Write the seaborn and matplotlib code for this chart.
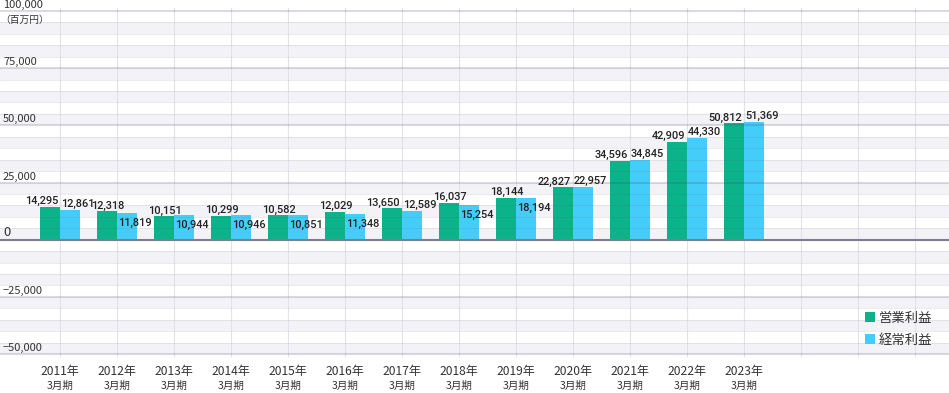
# 営業利益・経常利益の推移 (百万円)
import pandas as pd
import matplotlib
matplotlib.use("Agg")
import matplotlib.pyplot as plt
import matplotlib.transforms as mtransforms
import seaborn as sns

years = ["2011", "2012", "2013", "2014", "2015", "2016", "2017",
         "2018", "2019", "2020", "2021", "2022", "2023"]
eigyo = [14295, 12318, 10151, 10299, 10582, 12029, 13650,
         16037, 18144, 22827, 34596, 42909, 50812]
keijo = [12861, 11819, 10944, 10946, 10851, 11348, 12589,
         15254, 18194, 22957, 34845, 44330, 51369]
series = ["営業利益", "経常利益"]
colors = ["#0bb38b", "#45cdf9"]
y_major = [-50000, -25000, 0, 25000, 50000, 75000, 100000]

df = pd.DataFrame({
    "year": years * 2,
    "kind": [series[0]] * len(years) + [series[1]] * len(years),
    "value": eigyo + keijo,
})

sns.set_style("white")
plt.rcParams["font.family"] = ["Noto Sans CJK JP", "DejaVu Sans"]

fig = plt.figure(figsize=(9.49, 3.93), dpi=100)
# axes: pixel 8 .. 357 from top
ax = fig.add_axes([0, 36 / 393, 1, 349 / 393])

sns.barplot(data=df, x="year", y="value", hue="kind", palette=colors,
            width=0.7, saturation=1, linewidth=0, ax=ax, zorder=2,
            legend=True)

upp = 150000 / 343
ax.set_ylim(-50000 - 3 * upp, 100000 + 3 * upp)
ax.set_xlim(-60 / 57, -60 / 57 + 949 / 57)
for s in ax.spines.values():
    s.set_visible(False)
ax.set_xticks([])
ax.set_yticks([])
ax.set_xlabel("")
ax.set_ylabel("")

# 背景の縞と罫線
for k in range(-10, 20):
    if k % 2 == 0:
        ax.axhspan(k * 5000, (k + 1) * 5000, color="#f3f3f7", lw=0, zorder=0)
for v in range(-50000, 100001, 5000):
    if v == 0:
        ax.axhline(v, color="#807a90", lw=1.5, zorder=4)
    elif v % 25000 == 0:
        ax.axhline(v, color=(0.3, 0.28, 0.42, 0.2), lw=1.5, zorder=3)
    else:
        ax.axhline(v, color=(0.3, 0.28, 0.42, 0.1), lw=0.8, zorder=3)
for i in range(16):
    ax.axvline(i, color="#e3e2e9", lw=0.8, zorder=1)

# y軸ラベル
for v in y_major:
    lab = "0" if v == 0 else f"{v:,}".replace("-", "−")
    fs = 9.5 if v == 0 else 8
    ax.annotate(lab, (3 / 949, v), xycoords=("axes fraction", "data"),
                xytext=(0, 1), textcoords="offset pixels",
                ha="left", va="bottom", fontsize=fs, color="#333333")
ax.annotate("（百万円）", (0, 100000), xycoords=("axes fraction", "data"),
            xytext=(0, -4), textcoords="offset pixels",
            ha="left", va="top", fontsize=7, color="#333333")

# x軸ラベル
trans = mtransforms.blended_transform_factory(ax.transData, ax.transAxes)
for i, y in enumerate(years):
    ax.annotate(f"{y}年", (i, 0), xycoords=trans, xytext=(0, -15),
                textcoords="offset pixels", ha="center", va="center",
                fontsize=8.7, color="#333333", annotation_clip=False)
    ax.annotate("3月期", (i, 0), xycoords=trans, xytext=(0, -29),
                textcoords="offset pixels", ha="center", va="center",
                fontsize=7.6, color="#333333", annotation_clip=False)

# 数値ラベル
vfont = dict(family="Roboto", fontsize=7.9, color="#222222", weight="medium")
for i, (g, b) in enumerate(zip(eigyo, keijo)):
    spread = (g - b > 1000) or max(g, b) > 20000
    if spread:
        ax.annotate(f"{g:,}", (i, g), xytext=(-2, 3), textcoords="offset pixels",
                    ha="right", va="baseline", **vfont)
        ax.annotate(f"{b:,}", (i, b), xytext=(1, 3), textcoords="offset pixels",
                    ha="left", va="baseline", **vfont)
    else:
        ax.annotate(f"{g:,}", (i - 0.175, g), xytext=(1, 3), textcoords="offset pixels",
                    ha="center", va="baseline", **vfont)
        ax.annotate(f"{b:,}", (i, b), xytext=(1, -13), textcoords="offset pixels",
                    ha="left", va="baseline", **vfont)

# 凡例
ax.legend(loc="upper left", bbox_to_anchor=(865 / 949, (357 - 311) / 349),
          frameon=False, fontsize=9.6, handlelength=0.75, handleheight=0.75,
          handletextpad=0.25, labelspacing=0.6, borderpad=0, borderaxespad=0,
          labelcolor="#333333")

fig.savefig("out.png", dpi=100)
